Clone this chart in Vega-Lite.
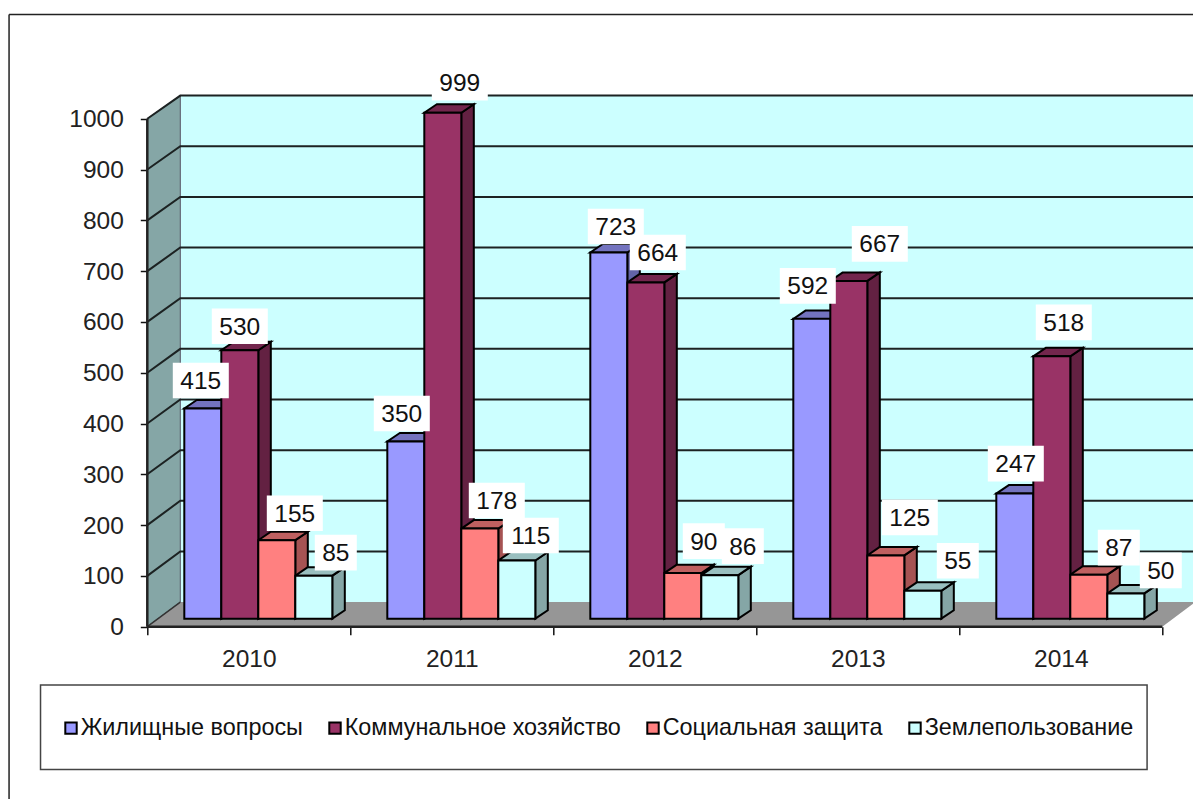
{
"$schema":"https://vega.github.io/schema/vega-lite/v6.json",
"width":1045.7,"height":626.7,"padding":{"left":147.3,"top":0,"right":0,"bottom":172.3},"autosize":{"type":"none"},"background":"white",
"config":{"view":{"stroke":null},"font":"Liberation Sans"},
"resolve":{"axis":{"x":"independent","y":"independent"}},
"layer":[
{"data":{"values":[{"part":"wall"}]},
 "transform":[{"calculate":"0.1626","as":"xa"},{"calculate":"5.1512","as":"xb"},{"calculate":"48.5","as":"ya"},{"calculate":"1045.5","as":"yb"}],
 "mark":{"type":"rect","fill":"#CCFFFF"},
 "encoding":{
  "x":{"field":"xa","type":"quantitative","title":null,"scale":{"domain":[0,5.1512],"nice":false,"zero":false},
   "axis":{"orient":"bottom","values":[0,1,2,3,4,5],"domain":false,"grid":false,"tickSize":8,"tickWidth":1.5,"tickColor":"#111","labelFont":"Liberation Sans","labelFontSize":24.5,"labelColor":"#222","labelPadding":13,"labelOffset":101.5,"labelOverlap":false,"labelFlush":false,"labelExpr":"datum.value<5?''+(2010+datum.value):''"}},
  "x2":{"field":"xb"},
  "y":{"field":"ya","type":"quantitative","title":null,"scale":{"domain":[0,1233.7],"nice":false,"zero":false},
   "axis":{"orient":"left","values":[0,100,200,300,400,500,600,700,800,900,1000],"domain":false,"grid":false,"tickSize":7,"tickWidth":1.5,"tickColor":"#111","labelFont":"Liberation Sans","labelFontSize":24.5,"labelColor":"#222","labelPadding":17,"labelOffset":1,"labelOverlap":false,"labelFlush":false,"format":"d"}},
  "y2":{"field":"yb"}}},
{"data":{"values":[{"t":0},{"t":1}]},
 "transform":[{"calculate":"datum.t*0.1626","as":"x"},{"calculate":"datum.t*48.5","as":"lo"},{"calculate":"1000+datum.t*45.5","as":"hi"}],
 "mark":{"type":"area","fill":"#85A6A6","stroke":"#556","strokeWidth":1},
 "encoding":{"x":{"field":"x","type":"quantitative","axis":null},"y":{"field":"lo","type":"quantitative","axis":null},"y2":{"field":"hi"}}},
{"data":{"values":[{"t":0},{"t":1}]},
 "transform":[{"calculate":"datum.t*48.5","as":"y"},{"calculate":"datum.t*0.1626","as":"xa"},{"calculate":"5+datum.t*0.1626","as":"xb"}],
 "mark":{"type":"area","orient":"horizontal","fill":"#969696"},
 "encoding":{"y":{"field":"y","type":"quantitative","axis":null},"x":{"field":"xa","type":"quantitative","axis":null},"x2":{"field":"xb"}}},
{"data":{"values":[{"v":100},{"v":200},{"v":300},{"v":400},{"v":500},{"v":600},{"v":700},{"v":800},{"v":900},{"v":1000}]},
 "transform":[{"calculate":"[0,1,2]","as":"t"},{"flatten":["t"]},
  {"calculate":"datum.t==0?0:(datum.t==1?0.1626:5.1626)","as":"x"},
  {"calculate":"datum.t==0?datum.v:48.5+datum.v*0.997","as":"y"}],
 "mark":{"type":"line","stroke":"#1c2222","strokeWidth":2},
 "encoding":{"x":{"field":"x","type":"quantitative","axis":null},"y":{"field":"y","type":"quantitative","axis":null},"detail":{"field":"v"},"order":{"field":"t"}}},
{"data":{"values":[{"t":0},{"t":1}]},
 "transform":[{"calculate":"datum.t*0.1626","as":"x"},{"calculate":"datum.t*48.5","as":"y"}],
 "mark":{"type":"line","stroke":"#333","strokeWidth":1.5},
 "encoding":{"x":{"field":"x","type":"quantitative","axis":null},"y":{"field":"y","type":"quantitative","axis":null}}},
{"data":{"values":[
 {"part":"y axis line"},{"part":"x axis line"},{"part":"frame left"},{"part":"frame top"}]},
 "transform":[
  {"calculate":"{'y axis line':0,'x axis line':0,'frame left':-0.681,'frame top':-0.681}[datum.part]","as":"xa"},
  {"calculate":"{'y axis line':0,'x axis line':5,'frame left':-0.681,'frame top':5.1512}[datum.part]","as":"xb"},
  {"calculate":"{'y axis line':0,'x axis line':0,'frame left':1205,'frame top':1205}[datum.part]","as":"ya"},
  {"calculate":"{'y axis line':1000,'x axis line':0,'frame left':-339.2,'frame top':1205}[datum.part]","as":"yb"},
  {"calculate":"indexof(datum.part,'axis')>=0?2.5:1.5","as":"sw"}],
 "mark":{"type":"rule","stroke":"#222"},
 "encoding":{"x":{"field":"xa","type":"quantitative","axis":null},"x2":{"field":"xb"},"y":{"field":"ya","type":"quantitative","axis":null},"y2":{"field":"yb"},"strokeWidth":{"field":"sw","type":"quantitative","scale":null,"legend":null}}},
{"data":{"values":[{"part":"legend box"}]},
 "transform":[{"calculate":"-0.526","as":"xa"},{"calculate":"4.925","as":"xb"},{"calculate":"-114.8","as":"ya"},{"calculate":"-281","as":"yb"}],
 "mark":{"type":"rect","fill":"white","stroke":"#444","strokeWidth":1.5},
 "encoding":{"x":{"field":"xa","type":"quantitative","axis":null},"x2":{"field":"xb"},"y":{"field":"ya","type":"quantitative","axis":null},"y2":{"field":"yb"}}},
{"data":{"values":[
{"year":2010,"series":"Жилищные вопросы","value":415},{"year":2010,"series":"Коммунальное хозяйство","value":530},{"year":2010,"series":"Социальная защита","value":155},{"year":2010,"series":"Землепользование","value":85},
{"year":2011,"series":"Жилищные вопросы","value":350},{"year":2011,"series":"Коммунальное хозяйство","value":999},{"year":2011,"series":"Социальная защита","value":178},{"year":2011,"series":"Землепользование","value":115},
{"year":2012,"series":"Жилищные вопросы","value":723},{"year":2012,"series":"Коммунальное хозяйство","value":664},{"year":2012,"series":"Социальная защита","value":90},{"year":2012,"series":"Землепользование","value":86},
{"year":2013,"series":"Жилищные вопросы","value":592},{"year":2013,"series":"Коммунальное хозяйство","value":667},{"year":2013,"series":"Социальная защита","value":125},{"year":2013,"series":"Землепользование","value":55},
{"year":2014,"series":"Жилищные вопросы","value":247},{"year":2014,"series":"Коммунальное хозяйство","value":518},{"year":2014,"series":"Социальная защита","value":87},{"year":2014,"series":"Землепользование","value":50}]},
 "transform":[
  {"calculate":"datum.year-2010","as":"i"},
  {"calculate":"indexof(['Жилищные вопросы','Коммунальное хозяйство','Социальная защита','Землепользование'],datum.series)","as":"s"},
  {"calculate":"datum.i+0.18227*(datum.s+1)","as":"x0"},
  {"calculate":"datum.x0+0.18227","as":"x1"},
  {"calculate":"15.75+datum.value*0.997","as":"yt"},
  {"calculate":"['#6363A6','#632142','#A65353','#85A6A6'][datum.s]","as":"sideFill"},
  {"calculate":"['#7373BF','#73264D','#BF6060','#99BFBF'][datum.s]","as":"topFill"},
  {"calculate":"[[[-2,28],[0,24],[18,27],[22,23]],[[-4,28],[17,30],[17,28],[14,25]],[[7,26],[12,30],[21,32],[23,29]],[[-4,33],[31,37],[24,38],[35,30]],[[1,30],[12,34],[30,27],[35,23]]][datum.i][datum.s]","as":"shift"},
  {"calculate":"datum.x0+0.09113+datum.shift[0]/203","as":"lx"},
  {"calculate":"datum.yt+datum.shift[1]/0.508","as":"ly"},
  {"calculate":"(datum.value>=100?28:21)/203","as":"hw"},
  {"calculate":"datum.lx-datum.hw","as":"bl"},
  {"calculate":"datum.lx+datum.hw","as":"br"},
  {"calculate":"datum.ly-35","as":"bb"},
  {"calculate":"datum.ly+35","as":"bt"},
  {"calculate":"datum.year+'-'+datum.s","as":"key"},
  {"calculate":"[0,1]","as":"t"},
  {"flatten":["t"]},
  {"calculate":"datum.x1+datum.t*0.0616","as":"sx"},
  {"calculate":"15.75+datum.t*16.7","as":"slo"},
  {"calculate":"datum.yt+datum.t*16.7","as":"shi"},
  {"calculate":"datum.x0+datum.t*0.0616","as":"ta"},
  {"calculate":"datum.x1+datum.t*0.0616","as":"tb"}
 ],
 "layer":[
  {"mark":{"type":"area","stroke":"#000","strokeWidth":2},
   "encoding":{"x":{"field":"sx","type":"quantitative","axis":null},"y":{"field":"slo","type":"quantitative","axis":null},"y2":{"field":"shi"},"detail":{"field":"key"},"fill":{"field":"sideFill","type":"nominal","scale":null,"legend":null}}},
  {"mark":{"type":"area","orient":"horizontal","stroke":"#000","strokeWidth":2},
   "encoding":{"y":{"field":"shi","type":"quantitative","axis":null},"x":{"field":"ta","type":"quantitative","axis":null},"x2":{"field":"tb"},"detail":{"field":"key"},"fill":{"field":"topFill","type":"nominal","scale":null,"legend":null}}},
  {"transform":[{"filter":"datum.t==0"}],
   "mark":{"type":"rect","stroke":"#000","strokeWidth":2},
   "encoding":{"x":{"field":"x0","type":"quantitative","axis":null},"x2":{"field":"x1"},"y":{"field":"slo","type":"quantitative","axis":null},"y2":{"field":"yt"},
    "color":{"field":"series","type":"nominal","scale":{"domain":["Жилищные вопросы","Коммунальное хозяйство","Социальная защита","Землепользование"],"range":["#9999FF","#993366","#FF8080","#CCFFFF"]},
     "legend":{"title":null,"orient":"none","legendX":-88,"legendY":716,"direction":"horizontal","columns":4,"gridAlign":"each","columnPadding":20,"padding":0,"symbolType":"square","symbolSize":130,"symbolStrokeColor":"#000","symbolStrokeWidth":2,"labelFont":"Liberation Sans","labelFontSize":23.4,"labelColor":"#111","labelOffset":-2,"labelLimit":400}}}},
  {"transform":[{"filter":"datum.t==0 && datum.s==0"}],"mark":{"type":"rect","fill":"white"},
   "encoding":{"x":{"field":"bl","type":"quantitative","axis":null},"x2":{"field":"br"},"y":{"field":"bb","type":"quantitative","axis":null},"y2":{"field":"bt"}}},
  {"transform":[{"filter":"datum.t==0 && datum.s==0"}],"mark":{"type":"text","font":"Liberation Sans","fontSize":24.5,"fill":"#111","baseline":"middle","align":"center","dy":1.5},
   "encoding":{"x":{"field":"lx","type":"quantitative","axis":null},"y":{"field":"ly","type":"quantitative","axis":null},"text":{"field":"value","type":"quantitative"}}},
  {"transform":[{"filter":"datum.t==0 && datum.s==1"}],"mark":{"type":"rect","fill":"white"},
   "encoding":{"x":{"field":"bl","type":"quantitative","axis":null},"x2":{"field":"br"},"y":{"field":"bb","type":"quantitative","axis":null},"y2":{"field":"bt"}}},
  {"transform":[{"filter":"datum.t==0 && datum.s==1"}],"mark":{"type":"text","font":"Liberation Sans","fontSize":24.5,"fill":"#111","baseline":"middle","align":"center","dy":1.5},
   "encoding":{"x":{"field":"lx","type":"quantitative","axis":null},"y":{"field":"ly","type":"quantitative","axis":null},"text":{"field":"value","type":"quantitative"}}},
  {"transform":[{"filter":"datum.t==0 && datum.s==2"}],"mark":{"type":"rect","fill":"white"},
   "encoding":{"x":{"field":"bl","type":"quantitative","axis":null},"x2":{"field":"br"},"y":{"field":"bb","type":"quantitative","axis":null},"y2":{"field":"bt"}}},
  {"transform":[{"filter":"datum.t==0 && datum.s==2"}],"mark":{"type":"text","font":"Liberation Sans","fontSize":24.5,"fill":"#111","baseline":"middle","align":"center","dy":1.5},
   "encoding":{"x":{"field":"lx","type":"quantitative","axis":null},"y":{"field":"ly","type":"quantitative","axis":null},"text":{"field":"value","type":"quantitative"}}},
  {"transform":[{"filter":"datum.t==0 && datum.s==3"}],"mark":{"type":"rect","fill":"white"},
   "encoding":{"x":{"field":"bl","type":"quantitative","axis":null},"x2":{"field":"br"},"y":{"field":"bb","type":"quantitative","axis":null},"y2":{"field":"bt"}}},
  {"transform":[{"filter":"datum.t==0 && datum.s==3"}],"mark":{"type":"text","font":"Liberation Sans","fontSize":24.5,"fill":"#111","baseline":"middle","align":"center","dy":1.5},
   "encoding":{"x":{"field":"lx","type":"quantitative","axis":null},"y":{"field":"ly","type":"quantitative","axis":null},"text":{"field":"value","type":"quantitative"}}}
 ]}
]}
